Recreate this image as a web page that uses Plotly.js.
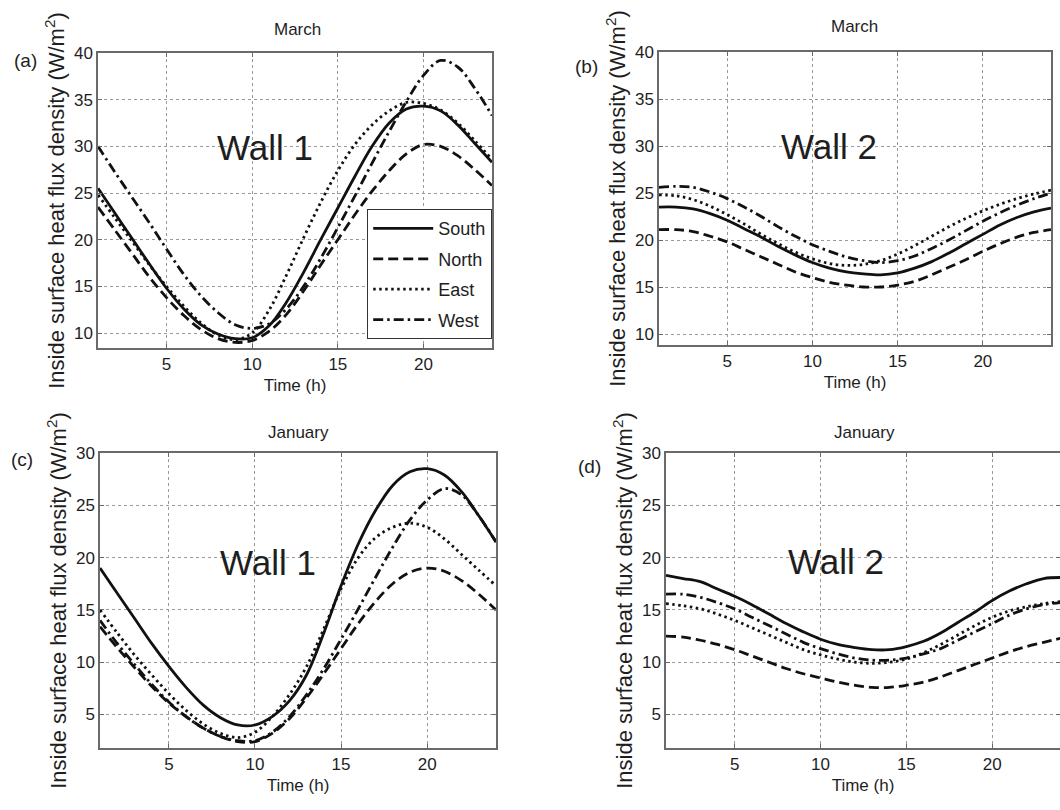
<!DOCTYPE html>
<html>
<head>
<meta charset="utf-8">
<script src="https://cdn.plot.ly/plotly-3.0.1.min.js"></script>
<style>html,body{margin:0;padding:0;background:#fff;}#chart{width:1060px;height:810px;}</style>
</head>
<body>
<div id="chart"></div>
<script>
// ---- data ----
const hours = [1,2,3,4,5,6,7,8,9,10,11,12,13,14,15,16,17,18,19,20,21,22,23,24];
const seriesNames = ["South","North","East","West"];
const panelTitles = ["March","March","January","January"];
const wallLabels = ["Wall 1","Wall 2","Wall 1","Wall 2"];
const panelLetters = ["(a)","(b)","(c)","(d)"];
const xTicks = [5,10,15,20];
const yTicksMarch = [10,15,20,25,30,35,40];
const yTicksJanuary = [5,10,15,20,25,30];

// (a) March, Wall 1
const marchWall1South = [25.5,22.8,20.1,17.4,14.8,12.6,10.9,9.9,9.4,9.5,10.8,13.3,16.5,20.0,23.4,26.8,30.0,32.5,34.0,34.3,33.8,32.3,30.3,28.3];
const marchWall1North = [23.5,21.0,18.5,16.0,13.8,11.9,10.4,9.4,9.0,9.2,10.2,12.0,14.5,17.3,20.0,22.7,25.2,27.4,29.2,30.2,30.0,29.0,27.5,25.8];
const marchWall1East  = [24.8,22.3,19.8,17.3,15.0,12.9,11.1,9.8,9.3,10.0,12.5,16.2,20.2,24.0,27.4,30.2,32.3,33.8,34.7,34.6,33.9,32.5,30.6,28.6];
const marchWall1West  = [30.0,27.2,24.5,21.8,19.0,16.3,14.0,12.2,10.9,10.5,11.0,12.6,15.0,18.0,21.3,24.7,28.2,31.6,34.8,37.6,39.2,38.5,36.2,33.3];

// (b) March, Wall 2
const marchWall2South = [23.5,23.5,23.3,22.8,22.1,21.2,20.3,19.3,18.4,17.6,17.0,16.6,16.4,16.3,16.5,17.0,17.7,18.6,19.6,20.6,21.6,22.4,23.0,23.4];
const marchWall2North = [21.1,21.1,20.9,20.4,19.8,19.0,18.2,17.4,16.6,16.0,15.5,15.2,15.0,15.0,15.2,15.6,16.3,17.1,17.9,18.8,19.6,20.3,20.8,21.1];
const marchWall2East  = [24.8,24.7,24.3,23.6,22.7,21.7,20.6,19.6,18.7,18.0,17.5,17.3,17.4,17.8,18.5,19.4,20.4,21.4,22.3,23.1,23.8,24.4,24.9,25.3];
const marchWall2West  = [25.6,25.7,25.6,25.1,24.4,23.5,22.5,21.4,20.4,19.5,18.8,18.2,17.8,17.6,17.8,18.3,19.1,20.0,21.0,22.0,22.9,23.7,24.4,25.0];

// (c) January, Wall 1
const janWall1South = [19.0,16.6,14.2,11.8,9.6,7.6,5.9,4.7,4.0,4.0,4.8,6.3,8.8,12.8,17.3,21.3,24.5,26.9,28.2,28.5,27.9,26.3,24.0,21.5];
const janWall1North = [13.4,11.4,9.5,7.7,6.1,4.8,3.7,2.9,2.4,2.4,3.2,4.6,6.6,8.9,11.3,13.7,15.8,17.5,18.6,19.0,18.7,17.8,16.5,15.0];
const janWall1East  = [15.0,12.8,10.7,8.8,7.0,5.4,4.1,3.2,2.8,3.3,4.8,6.9,9.6,13.2,17.0,20.0,21.9,22.9,23.3,22.9,21.8,20.3,18.8,17.3];
const janWall1West  = [14.0,11.8,9.8,7.9,6.2,4.8,3.7,2.9,2.5,2.5,3.3,4.8,6.9,9.4,12.2,15.1,18.1,21.0,23.6,25.5,26.6,26.0,24.0,21.5];

// (d) January, Wall 2
const janWall2South = [18.3,18.0,17.7,17.0,16.3,15.5,14.6,13.7,12.9,12.2,11.7,11.4,11.2,11.2,11.5,12.0,12.8,13.8,14.8,15.9,16.8,17.5,18.0,18.1];
const janWall2North = [12.5,12.4,12.1,11.7,11.2,10.6,10.0,9.4,8.9,8.5,8.1,7.8,7.6,7.6,7.8,8.1,8.6,9.2,9.8,10.4,11.0,11.5,11.9,12.3];
const janWall2East  = [15.6,15.4,15.1,14.6,14.0,13.3,12.6,11.9,11.2,10.7,10.3,10.0,9.9,10.0,10.3,10.9,11.7,12.6,13.5,14.3,14.9,15.3,15.6,15.8];
const janWall2West  = [16.5,16.5,16.2,15.7,15.1,14.3,13.5,12.7,11.9,11.3,10.8,10.4,10.2,10.2,10.4,10.8,11.3,12.1,12.9,13.7,14.5,15.1,15.5,15.7];

const panelData = [
  [marchWall1South, marchWall1North, marchWall1East, marchWall1West],
  [marchWall2South, marchWall2North, marchWall2East, marchWall2West],
  [janWall1South, janWall1North, janWall1East, janWall1West],
  [janWall2South, janWall2North, janWall2East, janWall2West]
];

// ---- styling / layout ----
const W = 1060, H = 810;
const FONT = "'Liberation Sans', Arial, Helvetica, sans-serif";
const TXT = "#1e1e1e";
const dashes = ["solid", "10px,5px", "2.5px,3.5px", "10px,4px,2.5px,4px"];
// pixel boxes [left, right, top, bottom]
const boxes = [
  [98, 492, 53, 348],
  [659, 1051, 52, 345],
  [100, 496, 453, 748],
  [666, 1060, 453, 748]
];
const xRanges = [[1,24],[1,24],[1,24],[1,23.95]];
const yRanges = [[8.4,40],[8.83,40],[1.8,30],[1.8,30]];
const yTicksList = [yTicksMarch, yTicksMarch, yTicksJanuary, yTicksJanuary];
const monthPos = [[297,30],[854,26],[298,432],[864,432]];
const wallPos = [[265,148],[829,146],[268,562],[836,561]];
const letterPos = [[25,60],[586,67],[22,459],[589,467]];

const traces = [];
const layout = {
  width: W, height: H,
  margin: {l:0, r:0, t:0, b:0},
  paper_bgcolor: "#fff", plot_bgcolor: "#fff",
  font: {family: FONT, color: TXT, size: 16},
  showlegend: true,
  legend: {
    x: 492/W, xanchor: "right", y: 1 - 339/H, yanchor: "bottom",
    bgcolor: "#fff", bordercolor: "#333", borderwidth: 1.2,
    font: {family: FONT, size: 18, color: TXT},
    tracegroupgap: 4, itemwidth: 60
  },
  annotations: [],
  shapes: []
};

const yTitle = "Inside surface heat flux density (W/m<sup>2</sup>)";

for (let p = 0; p < 4; p++) {
  const [l, r, t, b] = boxes[p];
  const xa = p === 0 ? "x" : "x" + (p + 1);
  const ya = p === 0 ? "y" : "y" + (p + 1);
  const xKey = p === 0 ? "xaxis" : "xaxis" + (p + 1);
  const yKey = p === 0 ? "yaxis" : "yaxis" + (p + 1);
  for (let s = 0; s < 4; s++) {
    traces.push({
      type: "scatter", mode: "lines",
      x: hours, y: panelData[p][s],
      name: seriesNames[s],
      legendgroup: seriesNames[s],
      showlegend: p === 0,
      xaxis: xa, yaxis: ya,
      line: {color: "#111", width: 2.8, dash: dashes[s], shape: "spline", smoothing: 1}
    });
  }
  const common = {
    showgrid: true, gridcolor: "#9a9a9a", griddash: "dot", gridwidth: 1,
    zeroline: false, showline: true, mirror: "all", linecolor: "#6a6a6a", linewidth: 1.6,
    ticks: "inside", ticklen: 4, tickcolor: "#6a6a6a",
    tickfont: {family: FONT, size: 17, color: TXT}
  };
  layout[xKey] = Object.assign({}, common, {
    domain: [l / W, r / W], range: xRanges[p],
    tickvals: xTicks, anchor: ya,
    title: {text: "Time (h)", font: {family: FONT, size: 17, color: TXT}, standoff: 6}
  });
  layout[yKey] = Object.assign({}, common, {
    domain: [1 - b / H, 1 - t / H], range: yRanges[p],
    tickvals: yTicksList[p], anchor: xa,
    title: {text: yTitle, font: {family: FONT, size: 22, color: TXT}, standoff: 3}
  });
  layout.annotations.push({
    xref: "paper", yref: "paper", xanchor: "center", yanchor: "middle",
    x: monthPos[p][0] / W, y: 1 - monthPos[p][1] / H,
    text: panelTitles[p], showarrow: false, font: {family: FONT, size: 17, color: TXT}
  });
  layout.annotations.push({
    xref: "paper", yref: "paper", xanchor: "center", yanchor: "middle",
    x: wallPos[p][0] / W, y: 1 - wallPos[p][1] / H,
    text: wallLabels[p], showarrow: false, font: {family: FONT, size: 35, color: TXT}
  });
  layout.annotations.push({
    xref: "paper", yref: "paper", xanchor: "center", yanchor: "middle",
    x: letterPos[p][0] / W, y: 1 - letterPos[p][1] / H,
    text: panelLetters[p], showarrow: false, font: {family: FONT, size: 19, color: TXT}
  });
}

Plotly.newPlot("chart", traces, layout, {displayModeBar: false, staticPlot: true});
</script>
</body>
</html>
